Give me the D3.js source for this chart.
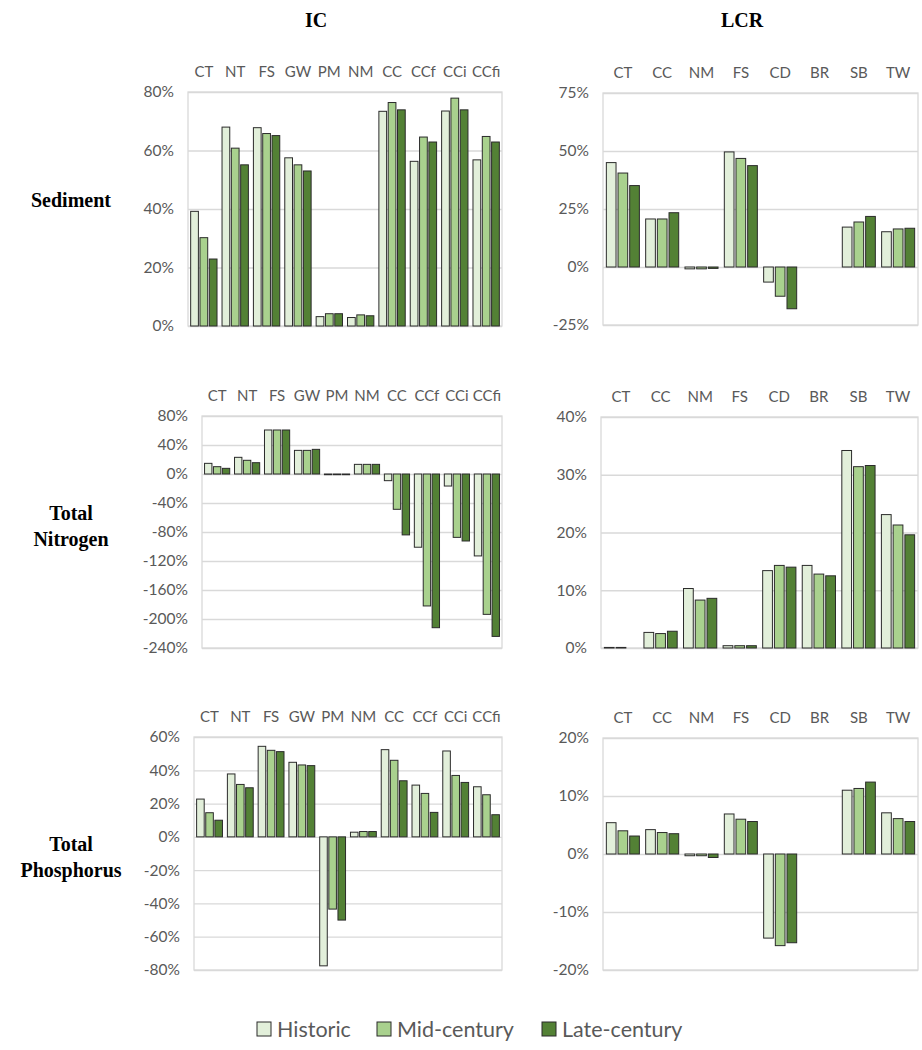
<!DOCTYPE html>
<html>
<head>
<meta charset="utf-8">
<script src="https://cdn.jsdelivr.net/npm/d3@7"></script>
<style>
  html, body { margin: 0; padding: 0; background: #fff; }
  svg { display: block; }
</style>
</head>
<body>
<svg id="chart" width="922" height="1050"></svg>
<script>
// ---------- DATA ----------
const seriesNames = ["Historic", "Mid-century", "Late-century"];
const seriesColors = ["#E2EFDA", "#A9D18E", "#538135"];

const icCategories  = ["CT", "NT", "FS", "GW", "PM", "NM", "CC", "CCf", "CCi", "CCfi"];
const lcrCategories = ["CT", "CC", "NM", "FS", "CD", "BR", "SB", "TW"];

// IC – Sediment (%)
const icSedHistoric = [39.2, 68.0, 67.8, 57.5, 3.2, 2.9, 73.4, 56.3, 73.5, 56.8];
const icSedMid      = [30.2, 60.8, 65.8, 55.1, 4.2, 3.8, 76.4, 64.6, 77.9, 64.8];
const icSedLate     = [22.9, 55.1, 65.1, 53.0, 4.2, 3.5, 73.9, 62.9, 73.9, 62.9];

// LCR – Sediment (%)
const lcrSedHistoric = [45.0, 20.7, -0.8, 49.6, -6.5, 0, 17.2, 15.2];
const lcrSedMid      = [40.5, 20.7, -0.8, 46.8, -12.6, 0, 19.4, 16.4];
const lcrSedLate     = [35.1, 23.4, -0.6, 43.7, -18.0, 0, 21.8, 16.7];

// IC – Total Nitrogen (%)
const icTnHistoric = [14.7, 23.0, 60.7, 32.6, -1.0, 13.3, -9.2, -101, -16.6, -113];
const icTnMid      = [10.1, 18.9, 60.7, 32.6, -1.0, 13.3, -48.7, -182, -87.4, -193.6];
const icTnLate     = [7.8, 15.6, 60.7, 34.0, -1.0, 13.3, -84.0, -212, -92.4, -224];

// LCR – Total Nitrogen (%)
const lcrTnHistoric = [0.1, 2.7, 10.3, 0.4, 13.4, 14.3, 34.2, 23.1];
const lcrTnMid      = [0.1, 2.5, 8.3, 0.4, 14.3, 12.8, 31.4, 21.3];
const lcrTnLate     = [0.0, 2.9, 8.6, 0.4, 14.0, 12.5, 31.6, 19.6];

// IC – Total Phosphorus (%)
const icTpHistoric = [22.7, 37.8, 54.4, 44.8, -77.5, 2.8, 52.4, 31.1, 51.6, 30.1];
const icTpMid      = [14.5, 31.5, 52.0, 43.2, -43.4, 3.2, 46.0, 26.1, 36.9, 25.3];
const icTpLate     = [10.0, 29.5, 51.2, 42.8, -50.0, 3.2, 33.7, 14.7, 32.7, 13.3];

// LCR – Total Phosphorus (%)
const lcrTpHistoric = [5.4, 4.2, -0.3, 6.9, -14.5, 0, 11.0, 7.1];
const lcrTpMid      = [4.0, 3.7, -0.3, 6.0, -15.8, 0, 11.3, 6.1];
const lcrTpLate     = [3.1, 3.5, -0.6, 5.6, -15.3, 0, 12.4, 5.6];

// Y tick values (%)
const ticksIcSed  = [0, 20, 40, 60, 80];
const ticksLcrSed = [-25, 0, 25, 50, 75];
const ticksIcTn   = [-240, -200, -160, -120, -80, -40, 0, 40, 80];
const ticksLcrTn  = [0, 10, 20, 30, 40];
const ticksIcTp   = [-80, -60, -40, -20, 0, 20, 40, 60];
const ticksLcrTp  = [-20, -10, 0, 10, 20];

const columnTitles = ["IC", "LCR"];
const rowTitles = [["Sediment"], ["Total", "Nitrogen"], ["Total", "Phosphorus"]];

// ---------- LAYOUT ----------
const panels = [
  { cats: icCategories,  data: [icSedHistoric, icSedMid, icSedLate],    ticks: ticksIcSed,  x0: 188, x1: 502, y0: 92,  y1: 326 },
  { cats: lcrCategories, data: [lcrSedHistoric, lcrSedMid, lcrSedLate], ticks: ticksLcrSed, x0: 603, x1: 918, y0: 93,  y1: 325 },
  { cats: icCategories,  data: [icTnHistoric, icTnMid, icTnLate],       ticks: ticksIcTn,   x0: 202, x1: 502, y0: 416, y1: 648 },
  { cats: lcrCategories, data: [lcrTnHistoric, lcrTnMid, lcrTnLate],    ticks: ticksLcrTn,  x0: 601, x1: 918, y0: 417, y1: 648 },
  { cats: icCategories,  data: [icTpHistoric, icTpMid, icTpLate],       ticks: ticksIcTp,   x0: 194, x1: 502, y0: 737, y1: 970 },
  { cats: lcrCategories, data: [lcrTpHistoric, lcrTpMid, lcrTpLate],    ticks: ticksLcrTp,  x0: 603, x1: 918, y0: 738, y1: 970 }
];

const svg = d3.select("#chart");
const labelFont = "Lato, 'Open Sans', sans-serif";
const titleFont = "'Liberation Serif', 'DejaVu Serif', serif";
const gray = "#595959";
const gridColor = "#d9d9d9";

panels.forEach(p => {
  const g = svg.append("g");
  const ext = d3.extent(p.ticks);
  const y = d3.scaleLinear().domain(ext).range([p.y1, p.y0]);
  const x = d3.scaleBand().domain(p.cats).range([p.x0, p.x1]).paddingInner(0.16).paddingOuter(0.085);
  const xs = d3.scaleBand().domain(d3.range(seriesNames.length)).range([0, x.bandwidth()]).paddingInner(0.17);

  // gridlines via axis
  const yAxis = d3.axisLeft(y).tickValues(p.ticks).tickSize(-(p.x1 - p.x0)).tickFormat(d => d + "%");
  const ax = g.append("g").attr("transform", `translate(${p.x0},0)`).call(yAxis);
  ax.select(".domain").remove();
  ax.selectAll(".tick line").attr("stroke", gridColor).attr("stroke-width", 1.3);
  ax.selectAll(".tick text")
    .attr("x", -14)
    .attr("fill", gray)
    .style("font-family", labelFont)
    .style("font-size", "15.5px");

  // plot border
  g.append("rect")
    .attr("x", p.x0).attr("y", p.y0)
    .attr("width", p.x1 - p.x0).attr("height", p.y1 - p.y0)
    .attr("fill", "none").attr("stroke", gridColor).attr("stroke-width", 1.3);

  // category labels (top)
  const xAxis = d3.axisTop(x).tickSize(0).tickPadding(15);
  const xa = g.append("g").attr("transform", `translate(0,${p.y0})`).call(xAxis);
  xa.select(".domain").remove();
  xa.selectAll(".tick text")
    .attr("fill", gray)
    .style("font-family", labelFont)
    .style("font-size", "15px");

  // bars
  p.data.forEach((vals, si) => {
    g.append("g").selectAll("rect")
      .data(vals.map((v, i) => ({ cat: p.cats[i], v })))
      .join("rect")
      .attr("x", d => x(d.cat) + xs(si))
      .attr("width", xs.bandwidth())
      .attr("y", d => y(Math.max(0, d.v)))
      .attr("height", d => Math.abs(y(d.v) - y(0)))
      .attr("fill", seriesColors[si])
      .attr("stroke", "#2b2b2b")
      .attr("stroke-width", 1);
  });
});

// column titles
const colX = [316, 742];
columnTitles.forEach((t, i) => {
  svg.append("text")
    .attr("x", colX[i]).attr("y", 27)
    .attr("text-anchor", "middle")
    .style("font-family", titleFont)
    .style("font-weight", "bold")
    .style("font-size", "20px")
    .attr("fill", "#000")
    .text(t);
});

// row titles
const rowY = [207, 533, 864];
rowTitles.forEach((lines, i) => {
  const t = svg.append("text")
    .attr("text-anchor", "middle")
    .style("font-family", titleFont)
    .style("font-weight", "bold")
    .style("font-size", "20px")
    .attr("fill", "#000");
  const startY = rowY[i] - (lines.length - 1) * 13;
  lines.forEach((ln, j) => {
    t.append("tspan").attr("x", 71).attr("y", startY + j * 26).text(ln);
  });
});

// legend
const legendX = [257, 377, 542];
const leg = svg.append("g");
seriesNames.forEach((s, i) => {
  leg.append("rect")
    .attr("x", legendX[i]).attr("y", 1022)
    .attr("width", 14).attr("height", 14)
    .attr("fill", seriesColors[i])
    .attr("stroke", "#2b2b2b").attr("stroke-width", 1);
  leg.append("text")
    .attr("x", legendX[i] + 20).attr("y", 1037)
    .attr("fill", gray)
    .style("font-family", labelFont)
    .style("font-size", "21.5px")
    .text(s);
});
</script>
</body>
</html>
